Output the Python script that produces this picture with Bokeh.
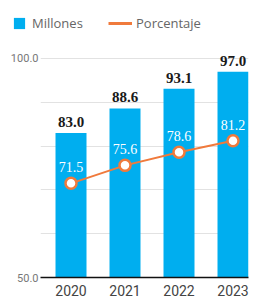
from bokeh.plotting import figure
from bokeh.layouts import column
from bokeh.models import ColumnDataSource, FixedTicker, Legend, LegendItem, Range1d, LabelSet
from bokeh.embed import file_html
from bokeh.resources import INLINE

years = ["2020", "2021", "2022", "2023"]
millones = [83.0, 88.6, 93.1, 97.0]
porcentaje = [71.5, 75.6, 78.6, 81.2]
series_names = ["Millones", "Porcentaje"]
y_ticks = [50, 100]
grid_ticks = [60, 70, 80, 90, 100]

BLUE = "#00AEEF"
ORANGE = "#F07A3C"

xs = list(range(len(years)))
src = ColumnDataSource(dict(
    x=xs, year=years, m=millones, p=porcentaje,
    m_lbl=[f"{v:.1f}" for v in millones],
    p_lbl=[f"{v:.1f}" for v in porcentaje],
))

# ---- legend strip ----
lg = figure(width=261, height=36, output_backend="svg", toolbar_location=None,
            x_range=Range1d(0, 1), y_range=Range1d(0, 1), x_axis_type=None, y_axis_type=None,
            min_border=0)
lg.frame_align = False
lg.outline_line_color = None
lg.xgrid.visible = False
lg.ygrid.visible = False
# zero-size proxies, used only to draw the legend swatches
r_bar = lg.vbar(x=[0], top=[0], bottom=[0], width=0, fill_color=BLUE, line_color=None)
r_line = lg.line(x=[0], y=[0], line_color=ORANGE, line_width=3)

common = dict(orientation="horizontal", padding=0, margin=0, background_fill_alpha=0,
              border_line_alpha=0, label_text_font="Open Sans",
              label_text_font_size="13px", label_text_color="#666666", label_height=14,
              glyph_height=14)
leg1 = Legend(items=[LegendItem(label=series_names[0], renderers=[r_bar])], location=(12, 4),
              glyph_width=14, label_standoff=6, **common)
leg2 = Legend(items=[LegendItem(label=series_names[1], renderers=[r_line])], location=(108, 4),
              glyph_width=24, label_standoff=4, **common)
lg.add_layout(leg1)
lg.add_layout(leg2)

# ---- main chart ----
p = figure(width=261, height=266, output_backend="svg", toolbar_location=None,
           x_range=Range1d(-0.565, 3.287), y_range=Range1d(50, 105.02),
           min_border_left=40, min_border_right=13, min_border_top=0, min_border_bottom=25)
p.frame_align = False
p.outline_line_color = None

bars = p.vbar(x="x", top="m", bottom=50, width=0.574, fill_color=BLUE, line_color=None, source=src)
line = p.line(x="x", y="p", line_color=ORANGE, line_width=2, source=src)
p.scatter(x="x", y="p", size=11, fill_color="white", line_color=ORANGE, line_width=2.5, source=src)

p.add_layout(LabelSet(x="x", y="m", text="m_lbl", source=src, text_align="center",
                      text_baseline="alphabetic", y_offset=6, text_font="Liberation Sans",
                      text_font_style="bold", text_font_size="15px", text_color="#1a1a1a"))
p.add_layout(LabelSet(x="x", y="p", text="p_lbl", source=src, text_align="center",
                      text_baseline="alphabetic", y_offset=11, text_font="Roboto",
                      text_font_size="14px", text_color="white"))

p.yaxis.ticker = FixedTicker(ticks=y_ticks)
p.yaxis.major_label_overrides = {t: f"{t:.1f}" for t in y_ticks}
p.yaxis.axis_line_color = None
p.yaxis.major_tick_line_color = None
p.yaxis.minor_tick_line_color = None
p.yaxis.major_tick_out = 0
p.yaxis.major_tick_in = 0
p.yaxis.major_label_standoff = 2
p.yaxis.major_label_text_font = "Roboto"
p.yaxis.major_label_text_font_size = "11px"
p.yaxis.major_label_text_color = "#777777"

p.ygrid.ticker = FixedTicker(ticks=grid_ticks)
p.ygrid.grid_line_color = "#e2e2e2"
p.xgrid.grid_line_color = None

p.xaxis.ticker = FixedTicker(ticks=xs)
p.xaxis.major_label_overrides = {i: y for i, y in enumerate(years)}
p.xaxis.axis_line_color = "#111111"
p.xaxis.axis_line_width = 1.5
p.xaxis.major_tick_line_color = None
p.xaxis.minor_tick_line_color = None
p.xaxis.major_tick_out = 0
p.xaxis.major_tick_in = 0
p.xaxis.major_label_standoff = 7
p.xaxis.major_label_text_line_height = 1.0
p.xaxis.major_label_text_font = "Roboto"
p.xaxis.major_label_text_font_size = "14px"
p.xaxis.major_label_text_color = "#444444"

layout = column(lg, p, spacing=0)
open("out.html", "w").write(file_html(layout, INLINE))
